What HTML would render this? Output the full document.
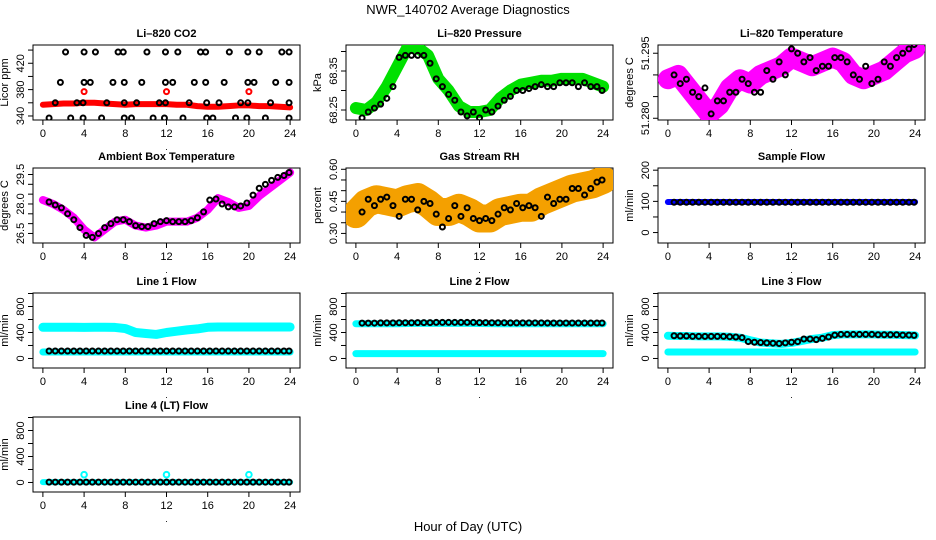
<!DOCTYPE html>
<html><head><meta charset="utf-8"><style>
body{margin:0;background:#fff;}
svg{display:block;font-family:"Liberation Sans",Arial,sans-serif;}
</style></head><body>
<svg id="chart" width="936" height="540" viewBox="0 0 936 540"></svg>
<script>
const hoursHourly=[0,1,2,3,4,5,6,7,8,9,10,11,12,13,14,15,16,17,18,19,20,21,22,23,24];
const blackHours=[0.6,1.2,1.8,2.4,3.0,3.6,4.2,4.8,5.4,6.0,6.6,7.2,7.8,8.4,9.0,9.6,10.2,10.8,11.4,12.0,12.6,13.2,13.8,14.4,15.0,15.6,16.2,16.8,17.4,18.0,18.6,19.2,19.8,20.4,21.0,21.6,22.2,22.8,23.4,23.9];
const xTicks=[0,4,8,12,16,20,24];
// CO2
const co2Red=[357,358,359,359,360,360,359,358,357,358,358,358,358,357,357,355,354,354,355,356,356,355,355,354,353];
const co2BlackHours=[2.2,4.0,5.1,7.3,7.8,10.1,11.9,13.1,15.3,15.8,18.1,19.9,21.0,23.2,23.9,1.7,4.0,4.6,6.8,7.9,9.6,11.9,12.6,14.7,15.8,17.6,19.9,20.5,22.6,23.9,1.2,3.3,3.9,6.2,7.9,9.1,11.3,11.9,14.2,15.9,17.1,19.2,19.9,22.1,23.9,0.6,2.7,3.9,5.7,7.9,8.6,10.7,11.8,13.6,15.9,16.5,18.7,19.8,21.6,23.9];
const co2BlackVals=[437,437,437,437,437,437,437,437,437,437,437,437,437,437,437,391,391,391,391,391,391,391,391,391,391,391,391,391,391,391,360,360,360,360,360,360,360,360,360,360,360,360,360,360,360,337,337,337,337,337,337,337,337,337,337,337,337,337,337,337];
const co2RedHours=[4,12,20];
const co2RedVals=[377,377,377];
// Pressure
const presGreen=[68.255,68.25,68.27,68.31,68.36,68.41,68.41,68.39,68.33,68.30,68.26,68.245,68.245,68.25,68.28,68.30,68.315,68.32,68.325,68.325,68.33,68.33,68.33,68.32,68.31];
const presBlack=[68.23,68.245,68.255,68.265,68.28,68.31,68.385,68.39,68.39,68.39,68.39,68.37,68.33,68.31,68.29,68.275,68.245,68.235,68.245,68.23,68.25,68.245,68.26,68.275,68.285,68.3,68.3,68.305,68.31,68.315,68.31,68.31,68.32,68.32,68.32,68.31,68.32,68.31,68.31,68.30];
// Li-820 temp
const tempMag=[51.289,51.290,51.287,51.284,51.281,51.283,51.287,51.289,51.288,51.290,51.291,51.292,51.294,51.293,51.292,51.293,51.294,51.293,51.290,51.289,51.290,51.291,51.293,51.295,51.296];
const tempBlack=[51.290,51.288,51.289,51.286,51.285,51.287,51.281,51.284,51.284,51.286,51.286,51.289,51.288,51.286,51.286,51.291,51.289,51.293,51.290,51.296,51.295,51.293,51.294,51.291,51.292,51.292,51.294,51.294,51.293,51.290,51.289,51.292,51.288,51.289,51.293,51.292,51.294,51.295,51.296,51.297];
// Ambient
const ambMag=[28.2,28.0,27.7,27.3,26.7,26.3,26.7,27.1,27.2,26.9,26.8,26.9,27.1,27.1,27.1,27.3,27.7,28.3,28.1,27.8,27.9,28.4,28.8,29.2,29.6];
const ambBlack=[28.1,27.95,27.8,27.5,27.2,26.8,26.4,26.3,26.5,26.8,27.0,27.2,27.2,27.1,26.9,26.85,26.85,27.0,27.1,27.15,27.1,27.1,27.1,27.15,27.3,27.6,28.2,28.25,28.0,27.85,27.85,27.9,28.05,28.45,28.8,29.0,29.2,29.35,29.45,29.6];
// RH
const rhOrange=[0.39,0.44,0.46,0.45,0.44,0.46,0.47,0.44,0.40,0.40,0.42,0.40,0.37,0.37,0.40,0.41,0.42,0.42,0.45,0.47,0.49,0.51,0.52,0.53,0.55];
const rhBlack=[0.40,0.46,0.43,0.46,0.47,0.43,0.38,0.46,0.46,0.41,0.45,0.44,0.39,0.33,0.37,0.43,0.38,0.42,0.37,0.36,0.37,0.36,0.39,0.42,0.41,0.44,0.42,0.43,0.42,0.38,0.47,0.44,0.46,0.46,0.51,0.51,0.48,0.51,0.54,0.55];
// Sample flow
const sampleBlue=[98,98,98,98,98,98,98,98,98,98,98,98,98,98,98,98,98,98,98,98,98,98,98,98,98];
const sampleBlack=[97,97,97,97,97,97,97,97,97,97,97,97,97,97,97,97,97,97,97,97,97,97,97,97,97,97,97,97,97,97,97,97,97,97,97,97,97,97,97,97];
// Line 1
const l1CyanHi=[480,480,480,480,478,480,480,478,460,400,385,370,400,420,440,455,480,485,485,485,485,485,485,485,485];
const l1CyanLo=[100,100,100,100,100,100,100,100,100,100,100,100,100,100,100,100,100,100,100,100,100,100,100,100,100];
const l1Black=[115,115,115,115,115,115,115,115,115,115,115,115,115,115,115,115,115,115,115,115,115,115,115,115,115,115,115,115,115,115,115,115,115,115,115,115,115,115,115,115];
// Line 2
const l2CyanHi=[535,535,535,535,535,538,540,540,540,540,540,540,538,536,535,535,535,535,535,535,535,535,535,535,535];
const l2CyanLo=[75,75,75,75,75,75,75,75,75,75,75,75,75,75,75,75,75,75,75,75,75,75,75,75,75];
const l2Black=[545,545,545,548,548,548,550,550,550,552,552,552,555,555,555,555,555,555,555,552,552,550,550,550,548,548,548,548,548,548,546,546,546,546,546,546,546,546,546,546];
// Line 3
const l3CyanHi=[350,345,345,340,340,340,335,320,280,245,235,225,240,270,300,320,360,370,370,370,370,365,365,360,355];
const l3CyanLo=[100,100,100,100,100,100,100,100,100,100,100,100,100,100,100,100,100,100,100,100,100,100,100,100,100];
const l3Black=[350,345,345,340,340,340,340,340,340,335,330,320,260,250,245,240,235,230,240,250,260,300,300,290,310,330,360,370,370,370,370,370,370,365,365,365,365,360,360,355];
// Line 4
const l4Cyan=[5,5,5,5,5,5,5,5,5,5,5,5,5,5,5,5,5,5,5,5,5,5,5,5,5];
const l4Black=[5,5,5,5,5,5,5,5,5,5,5,5,5,5,5,5,5,5,5,5,5,5,5,5,5,5,5,5,5,5,5,5,5,5,5,5,5,5,5,5];
const l4CyanPtHours=[4,12,20];
const l4CyanPtVals=[120,120,120];

const NS="http://www.w3.org/2000/svg";
const svg=document.getElementById('chart');
function mk(tag,attrs,parent){const e=document.createElementNS(NS,tag);for(const k in attrs)e.setAttribute(k,attrs[k]);(parent||svg).appendChild(e);return e;}
function txt(s,attrs,parent){const e=mk('text',attrs,parent);e.textContent=s;return e;}

const colL=[33,346,658], W=267, rowT=[45,168,293,417], H=75;

function panel(name,title,col,row,ymin,ymax,yticks,ylabels,ytitle){
  const L=colL[col],T=rowT[row];
  const g=mk('g',{});
  
  
  const xs=t=>L+(t+0.96)/25.92*W;
  const ys=v=>T+H-(v-ymin)/(ymax-ymin)*H;
  const ti=txt(title,{x:L+W/2,y:T-8,'text-anchor':'middle','font-size':'11','font-weight':'bold'},g);
  
  
  const box=mk('rect',{x:L,y:T,width:W,height:H,fill:'none',stroke:'#000','stroke-width':1},g);
  
  
  const xa=mk('g',{},g);
  
  
  xTicks.forEach(t=>{
    mk('line',{x1:xs(t),x2:xs(t),y1:T+H,y2:T+H+5,stroke:'#000'},xa);
    txt(String(t),{x:xs(t),y:T+H+17,'text-anchor':'middle','font-size':'11'},xa);
  });
  txt('.',{x:L+W/2,y:T+H+30,'text-anchor':'middle','font-size':'9'},xa);
  const ya=mk('g',{},g);
  
  
  yticks.forEach(v=>{mk('line',{x1:L-5,x2:L,y1:ys(v),y2:ys(v),stroke:'#000'},ya);});
  ylabels.forEach(v=>{
    const lbl=typeof v==='string'?v:String(v);
    const y=ys(parseFloat(lbl));
    txt(lbl,{x:L-9,y:y,'text-anchor':'middle','font-size':'11',transform:`rotate(-90 ${L-9} ${y})`},ya);
  });
  const yt=txt(ytitle,{x:L-25,y:T+H/2,'text-anchor':'middle','font-size':'11',transform:`rotate(-90 ${L-25} ${T+H/2})`},g);
  
  
  const clip='c'+name;
  const cp=mk('clipPath',{id:clip},g);mk('rect',{x:L,y:T,width:W,height:H},cp);
  const data=mk('g',{'clip-path':`url(#${clip})`},g);
  return {xs,ys,g:data};
}
function band(p,hrs,vals,color,w,name){
  const pl=mk('polyline',{points:hrs.map((h,i)=>p.xs(h)+','+p.ys(vals[i])).join(' '),fill:'none',stroke:color,'stroke-width':w,'stroke-linejoin':'round','stroke-linecap':'round'},p.g);
  
  
}
function pts(p,hrs,vals,color,name,r){
  const g=mk('g',{},p.g);
  
  
  hrs.forEach((h,i)=>{mk('circle',{cx:p.xs(h),cy:p.ys(vals[i]),r:r||2.5,fill:'none',stroke:color,'stroke-width':2},g);});
}

let p;
p=panel('co2-panel','Li\u2013820 CO2',0,0,333.9,447.7,[340,360,380,400,420,440],['340','380','420'],'Licor ppm');
band(p,hoursHourly,co2Red,'#ff0000',6,'co2-red-series');
pts(p,co2BlackHours,co2BlackVals,'#000','co2-black-points');
pts(p,co2RedHours,co2RedVals,'#ff0000','co2-red-points');

p=panel('pressure-panel','Li\u2013820 Pressure',1,0,68.2244,68.4167,[68.25,68.30,68.35,68.40],['68.25','68.35'],'kPa');
band(p,hoursHourly,presGreen,'#00e000',12,'pressure-green-series');
pts(p,blackHours,presBlack,'#000','pressure-black-points');

p=panel('li820-temp-panel','Li\u2013820 Temperature',2,0,51.2796,51.2969,[51.280,51.285,51.290,51.295],['51.280','51.295'],'degrees C');
band(p,hoursHourly,tempMag,'#ff00ff',20,'temp-magenta-series');
pts(p,blackHours,tempBlack,'#000','temp-black-points');

p=panel('ambient-temp-panel','Ambient Box Temperature',0,1,26.015,29.83,[26.5,27,27.5,28,28.5,29,29.5],['26.5','28.0','29.5'],'degrees C');
band(p,hoursHourly,ambMag,'#ff00ff',8,'ambient-magenta-series');
pts(p,blackHours,ambBlack,'#000','ambient-black-points');

p=panel('rh-panel','Gas Stream RH',1,1,0.2552,0.606,[0.30,0.35,0.40,0.45,0.50,0.55,0.60],['0.30','0.45','0.60'],'percent');
band(p,hoursHourly,rhOrange,'#f4a000',28,'rh-orange-series');
pts(p,blackHours,rhBlack,'#000','rh-black-points');

p=panel('sample-flow-panel','Sample Flow',2,1,-33.5,207,[0,50,100,150,200],['0','100','200'],'ml/min');
band(p,hoursHourly,sampleBlue,'#0000ff',6,'sample-blue-series');
pts(p,blackHours,sampleBlack,'#000','sample-black-points');

const fr=[-146.6,1007.8], ft=[0,200,400,600,800,1000], fl=['0','400','800'];
p=panel('line1-panel','Line 1 Flow',0,2,fr[0],fr[1],ft,fl,'ml/min');
band(p,hoursHourly,l1CyanHi,'#00ffff',9,'line1-cyan-high');
band(p,hoursHourly,l1CyanLo,'#00ffff',7,'line1-cyan-low');
pts(p,blackHours,l1Black,'#000','line1-black-points');

p=panel('line2-panel','Line 2 Flow',1,2,fr[0],fr[1],ft,fl,'ml/min');
band(p,hoursHourly,l2CyanHi,'#00ffff',7,'line2-cyan-high');
band(p,hoursHourly,l2CyanLo,'#00ffff',7,'line2-cyan-low');
pts(p,blackHours,l2Black,'#000','line2-black-points');

p=panel('line3-panel','Line 3 Flow',2,2,fr[0],fr[1],ft,fl,'ml/min');
band(p,hoursHourly,l3CyanHi,'#00ffff',8,'line3-cyan-high');
band(p,hoursHourly,l3CyanLo,'#00ffff',7,'line3-cyan-low');
pts(p,blackHours,l3Black,'#000','line3-black-points');

p=panel('line4-panel','Line 4 (LT) Flow',0,3,fr[0],fr[1],ft,fl,'ml/min');
band(p,hoursHourly,l4Cyan,'#00ffff',6,'line4-cyan-series');
pts(p,blackHours,l4Black,'#000','line4-black-points');
pts(p,l4CyanPtHours,l4CyanPtVals,'#00ffff','line4-cyan-points',2.8);

const mt=txt('NWR_140702  Average Diagnostics',{x:468,y:14,'text-anchor':'middle','font-size':'13','xml:space':'preserve'});


const xt=txt('Hour of Day (UTC)',{x:468,y:531,'text-anchor':'middle','font-size':'13'});


</script>
</body></html>
